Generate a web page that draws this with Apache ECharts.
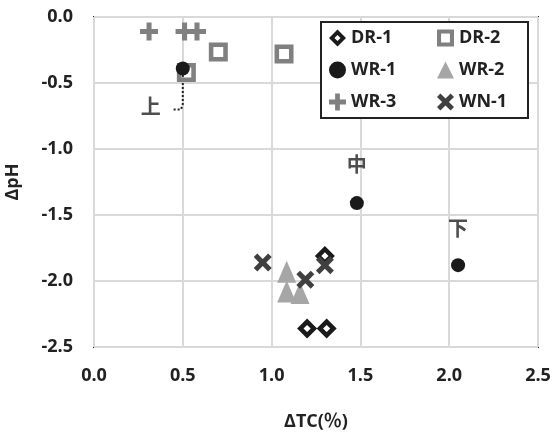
<!DOCTYPE html>
<html>
<head>
<meta charset="utf-8">
<script src="https://cdn.jsdelivr.net/npm/echarts@6/dist/echarts.min.js"></script>
<style>
  html, body { margin: 0; padding: 0; background: #fff; }
  #chart { width: 554px; height: 432px; }
</style>
</head>
<body>
<div id="chart"></div>
<script>
// ΔTC (%) versus ΔpH for each test section
const dr1X = [1.30, 1.20, 1.31];
const dr1Y = [-1.81, -2.36, -2.36];
const dr2X = [0.70, 0.52, 1.07];
const dr2Y = [-0.265, -0.42, -0.28];
const wr1X = [0.50, 1.48, 2.05];
const wr1Y = [-0.39, -1.41, -1.88];
const wr2X = [1.085, 1.085, 1.16];
const wr2Y = [-1.93, -2.08, -2.09];
const wr3X = [0.31, 0.51, 0.58];
const wr3Y = [-0.11, -0.11, -0.11];
const wn1X = [0.95, 1.19, 1.30];
const wn1Y = [-1.86, -1.99, -1.88];

// Position notes for the WR-1 samples (upper / middle / lower)
const noteText = ['上', '中', '下'];
const noteX = [0.32, 1.48, 2.05];
const noteY = [-0.68, -1.12, -1.60];
// Dotted leader from the upper sample to its note
const leaderX = [0.50, 0.50, 0.49, 0.445];
const leaderY = [-0.44, -0.66, -0.70, -0.70];

// Axis ticks
const xTicks = [0.0, 0.5, 1.0, 1.5, 2.0, 2.5];
const yTicks = [-2.5, -2.0, -1.5, -1.0, -0.5, 0.0];

const pairs = (xs, ys) => xs.map((x, i) => [x, ys[i]]);

const FONT = '"Open Sans", "Liberation Sans", sans-serif';
const INK = '#222';

// Marker outlines (hollow shapes are drawn as rings with an open centre)
const RING_DIAMOND = 'path://M5,0L10,5L5,10L0,5Z M5,3.2L3.2,5L5,6.8L6.8,5Z';
const RING_SQUARE = 'path://M0,0H10V10H0Z M2.4,2.4V7.6H7.6V2.4Z';
const PLUS = 'path://M3.6,0H6.4V3.6H10V6.4H6.4V10H3.6V6.4H0V3.6H3.6Z';
const CROSS = 'path://M0,2L2,0L5,3L8,0L10,2L7,5L10,8L8,10L5,7L2,10L0,8L3,5Z';

const legendText = {
  fontFamily: FONT, fontSize: 18, fontWeight: 'bold', color: INK, lineHeight: 20
};

const chart = echarts.init(document.getElementById('chart'), null, { renderer: 'canvas' });

chart.setOption({
  animation: false,
  backgroundColor: '#fff',
  grid: {
    left: 94, right: 16, top: 17, bottom: 85,
    outerBoundsMode: 'none',
    containLabel: false,
    show: true, borderColor: INK, borderWidth: 2, backgroundColor: 'transparent'
  },
  legend: [
    {
      data: ['DR-1', 'WR-1', 'WR-3'],
      orient: 'vertical',
      left: 321, top: 22,
      padding: [6, 118, 6, 8],
      itemGap: 12,
      itemWidth: 17, itemHeight: 17,
      borderColor: INK, borderWidth: 2, backgroundColor: '#fff',
      textStyle: Object.assign({ width: 59 }, legendText)
    },
    {
      data: ['DR-2', 'WR-2', 'WN-1'],
      orient: 'vertical',
      left: 437, top: 28,
      padding: 0,
      itemGap: 12,
      itemWidth: 17, itemHeight: 17,
      textStyle: legendText
    }
  ],
  xAxis: {
    type: 'value',
    min: xTicks[0], max: xTicks[xTicks.length - 1], interval: 0.5,
    name: 'ΔTC(％)',
    nameLocation: 'middle', nameGap: 66,
    nameTextStyle: { fontFamily: FONT + ', "Noto Sans CJK JP"', fontSize: 18, fontWeight: 'bold', color: INK },
    axisLine: { show: false },
    axisTick: { show: false },
    axisLabel: {
      margin: 20, fontFamily: FONT, fontSize: 18, fontWeight: 'bold', color: INK,
      formatter: v => v.toFixed(1)
    },
    splitLine: { show: true, lineStyle: { color: '#d9d9d9', width: 2 } }
  },
  yAxis: {
    type: 'value',
    min: yTicks[0], max: yTicks[yTicks.length - 1], interval: 0.5,
    name: 'ΔpH',
    nameLocation: 'middle', nameGap: 72,
    nameTextStyle: { fontFamily: FONT, fontSize: 18, fontWeight: 'bold', color: INK },
    axisLine: { show: false },
    axisTick: { show: false },
    axisLabel: {
      margin: 21, fontFamily: FONT, fontSize: 18, fontWeight: 'bold', color: INK,
      formatter: v => v.toFixed(1)
    },
    splitLine: { show: true, lineStyle: { color: '#d9d9d9', width: 2 } }
  },
  series: [
    {
      name: 'DR-1', type: 'scatter', symbol: RING_DIAMOND, symbolSize: 20,
      itemStyle: { color: '#1a1a1a', opacity: 1 },
      data: pairs(dr1X, dr1Y), z: 2
    },
    {
      name: 'DR-2', type: 'scatter', symbol: RING_SQUARE, symbolSize: 19,
      itemStyle: { color: '#808080', opacity: 1 },
      data: pairs(dr2X, dr2Y), z: 3
    },
    {
      name: 'WR-1', type: 'scatter', symbol: 'circle', symbolSize: 14,
      itemStyle: { color: '#1a1a1a', opacity: 1 },
      data: pairs(wr1X, wr1Y), z: 4
    },
    {
      name: 'WR-2', type: 'scatter', symbol: 'triangle', symbolSize: [19, 22],
      itemStyle: { color: '#a6a6a6', opacity: 1 },
      data: pairs(wr2X, wr2Y), z: 5
    },
    {
      name: 'WR-3', type: 'scatter', symbol: PLUS, symbolSize: 18,
      itemStyle: { color: '#808080', opacity: 1 },
      data: pairs(wr3X, wr3Y), z: 6
    },
    {
      name: 'WN-1', type: 'scatter', symbol: CROSS, symbolSize: 18,
      itemStyle: { color: '#404040', opacity: 1 },
      data: pairs(wn1X, wn1Y), z: 7
    },
    {
      name: 'leader', type: 'line', symbol: 'none', silent: true,
      lineStyle: { color: INK, width: 2, type: [2, 2] },
      data: pairs(leaderX, leaderY), z: 1
    },
    {
      name: 'notes', type: 'scatter', symbolSize: 0, silent: true,
      label: {
        show: true, position: 'inside',
        formatter: p => noteText[p.dataIndex],
        fontFamily: '"Noto Sans CJK JP", sans-serif', fontSize: 20, fontWeight: 'bold', color: INK
      },
      data: pairs(noteX, noteY), z: 8
    }
  ]
});
</script>
</body>
</html>
